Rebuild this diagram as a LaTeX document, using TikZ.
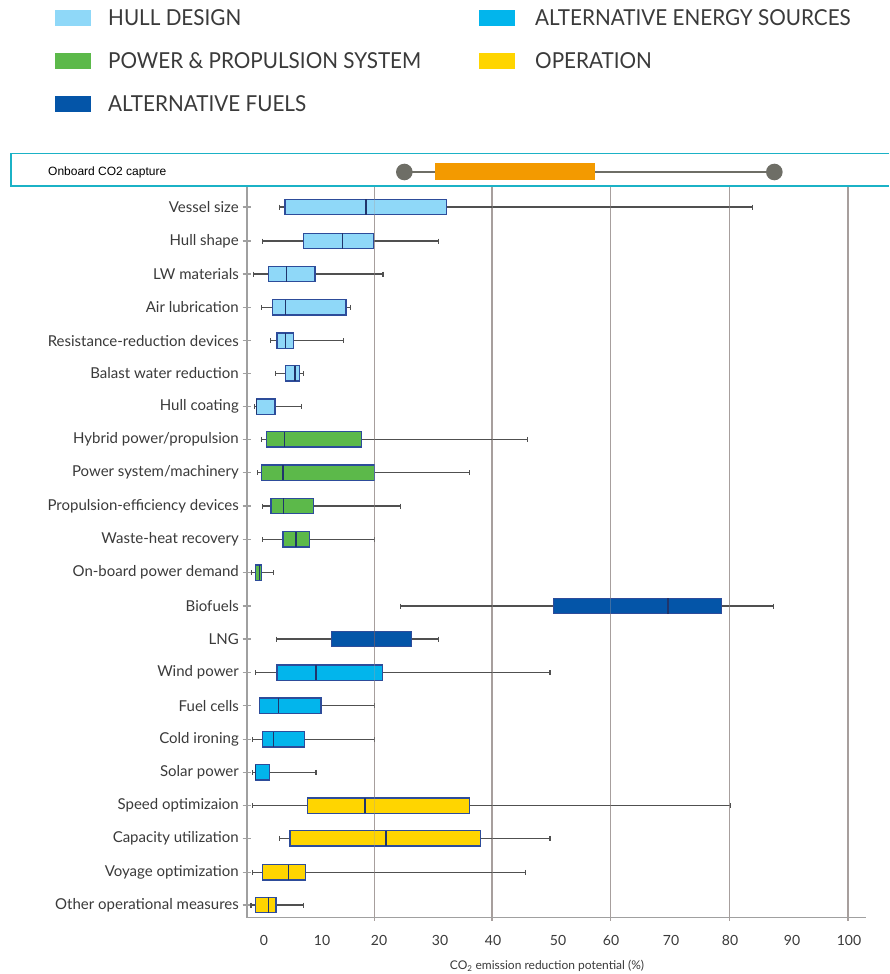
\documentclass[tikz,border=0pt]{standalone}
\usepackage{fontspec}
\setmainfont{Lato}
\newfontfamily\legfont[FakeStretch=0.94]{Lato}
\newfontfamily\arialfont{Liberation Sans}

\definecolor{hullc}{HTML}{8FD8F8}
\definecolor{powc}{HTML}{5CB94A}
\definecolor{fuelc}{HTML}{0455A8}
\definecolor{enec}{HTML}{02B5EC}
\definecolor{opc}{HTML}{FFD500}
\definecolor{edgec}{HTML}{2D4C9A}
\definecolor{whc}{HTML}{505050}
\definecolor{gridc}{HTML}{A79F9D}
\definecolor{axc}{HTML}{A0A0A0}
\definecolor{orangec}{HTML}{F39A00}
\definecolor{dotc}{HTML}{6E6E66}
\definecolor{panelc}{HTML}{1BB2C6}
\definecolor{txtc}{HTML}{3A3A3A}

\tikzset{
  rowlab/.style={anchor=east, text=txtc, font=\fontsize{15}{17}\selectfont, inner sep=0pt},
  whisk/.style={draw=whc, line width=1.2pt},
  boxst/.style={draw=edgec, line width=1.1pt},
  medst/.style={draw=edgec!70!black, line width=1.2pt},
  gridln/.style={draw=gridc, line width=1.1pt},
  legsq/.style={minimum width=36pt, minimum height=16pt, inner sep=0pt, draw=none},
  legtx/.style={anchor=west, text=txtc, font=\legfont\fontsize{22}{24}\selectfont, inner sep=0pt},
  ticklab/.style={text=txtc, font=\fontsize{14}{16}\selectfont, inner sep=0pt},
}

\newcommand\bxrow[9]{% #1 name, #2 y, #3 wl, #4 q1, #5 med, #6 q3, #7 wr, #8 color, #9 label
  \node[rowlab] (#1) at (239,#2) {#9};
  \draw[axc, line width=1.2pt] (242.5,#2) -- (250.5,#2);
  \draw[whisk] (#3,#2) -- (#4,#2) (#6,#2) -- (#7,#2);
  \draw[whisk] (#3,#2-2.5) -- (#3,#2+2.5) (#7,#2-2.5) -- (#7,#2+2.5);
  \draw[boxst, fill=#8] (#4,#2-7.7) rectangle (#6,#2+7.7);
  \draw[medst] (#5,#2-7.7) -- (#5,#2+7.7);
}

\begin{document}
\begin{tikzpicture}[x=1pt, y=-1pt]
\useasboundingbox (0,0) rectangle (889,974);
\fill[white] (0,0) rectangle (889,974);

% legend
\node[legsq, fill=hullc] (sq1) at (73,18) {};
\node[legtx] (lg1) at (108,18) {HULL DESIGN};
\node[legsq, fill=powc] (sq2) at (73,61) {};
\node[legtx] (lg2) at (108,61) {POWER \& PROPULSION SYSTEM};
\node[legsq, fill=fuelc] (sq3) at (73,104) {};
\node[legtx] (lg3) at (108,104) {ALTERNATIVE FUELS};
\node[legsq, fill=enec] (sq4) at (496.5,18) {};
\node[legtx] (lg4) at (535,18) {ALTERNATIVE ENERGY SOURCES};
\node[legsq, fill=opc] (sq5) at (496.5,61) {};
\node[legtx] (lg5) at (535,61) {OPERATION};

% onboard CO2 capture panel
\draw[panelc, line width=1.2pt] (889,153.3) -- (11,153.3) -- (11,186) -- (889,186);
\node[anchor=west, inner sep=0pt, font=\arialfont\fontsize{12}{14}\selectfont] (cap) at (48,172) {Onboard CO2 capture};
\coordinate (c1) at (404.3,172);
\coordinate (c2) at (774.3,172);
\draw[dotc, line width=2.2pt] (c1) -- (c2);
\fill[orangec] (435,162.7) rectangle (595,180);
\fill[dotc] (c1) circle (8.3);
\fill[dotc] (c2) circle (8.3);

% grid lines
\foreach \gx in {374.3,492,610.7,729.3,848}{
  \draw[gridln] (\gx,187) -- (\gx,921);
}
% axes
\draw[axc, line width=1.3pt] (247,187) -- (247,917.7) -- (866,917.7);

% rows
\bxrow{r0}{207}{279.3}{285}{366}{446.7}{752.3}{hullc}{Vessel size}
\bxrow{r1}{241}{262.7}{303.3}{342.3}{373.3}{438.7}{hullc}{Hull shape}
\bxrow{r2}{274}{253.3}{268.3}{286.7}{315}{383}{hullc}{LW materials}
\bxrow{r3}{307.3}{261.7}{272.3}{285.3}{346}{350.7}{hullc}{Air lubrication}
\bxrow{r4}{340.7}{270.7}{277}{285.7}{293.3}{343.7}{hullc}{Resistance-reduction devices}
\bxrow{r5}{373.3}{275.3}{285.3}{295}{299.3}{303.3}{hullc}{Balast water reduction}
\bxrow{r6}{406.7}{254.7}{256.7}{256.7}{275}{301.3}{hullc}{Hull coating}
\bxrow{r7}{439.3}{261.7}{266.3}{284.3}{361.3}{527.7}{powc}{Hybrid power/propulsion}
\bxrow{r8}{472.7}{257.3}{261.3}{283}{374.3}{469.7}{powc}{Power system/machinery}
\bxrow{r9}{506}{262.7}{271}{283.7}{313.7}{400.3}{powc}{Propulsion-efficiency devices}
\bxrow{r10}{539.3}{262.7}{283}{296}{309.3}{374.3}{powc}{Waste-heat recovery}
\bxrow{r11}{572.7}{251.7}{255.7}{259.3}{261.7}{273.7}{powc}{On-board power demand}
\bxrow{r12}{606}{400.3}{553.7}{668}{721.7}{773.3}{fuelc}{Biofuels}
\bxrow{r13}{639}{276.7}{331.7}{374.3}{411.3}{438.7}{fuelc}{LNG}
\bxrow{r14}{672.7}{255.7}{277}{316}{382.7}{550}{enec}{Wind power}
\bxrow{r15}{705.7}{259.3}{259.3}{278.3}{321}{374.3}{enec}{Fuel cells}
\bxrow{r16}{739.3}{252.3}{262.7}{273.3}{304.3}{374.3}{enec}{Cold ironing}
\bxrow{r17}{772.3}{252.3}{255.7}{255.7}{269.7}{316}{enec}{Solar power}
\bxrow{r18}{805.7}{252.3}{307.7}{365}{469.3}{730.7}{opc}{Speed optimizaion}
\bxrow{r19}{838.3}{279.3}{290}{386}{480.3}{550}{opc}{Capacity utilization}
\bxrow{r20}{872.3}{252.3}{262.7}{288.7}{305.3}{525.3}{opc}{Voyage optimization}
\bxrow{r21}{905}{251}{255.7}{268.3}{276}{303.3}{opc}{Other operational measures}

% faint grid over boxes
\foreach \gx in {374.3,492,610.7,729.3}{
  \draw[gridc, line width=0.8pt, opacity=0.35] (\gx,187) -- (\gx,917);
}

% tick labels
\foreach \tx/\tl [count=\i] in {264/0,322/10,379/20,440/30,493/40,558/50,611/60,671/70,730/80,792/90,849/100}{
  \node[ticklab] (t\i) at (\tx,940) {\tl};
}
\node[text=txtc, font=\fontsize{12}{14}\selectfont, inner sep=0pt] (xt) at (547,966) {CO\textsubscript{2} emission reduction potential (\%)};
\end{tikzpicture}
\end{document}
